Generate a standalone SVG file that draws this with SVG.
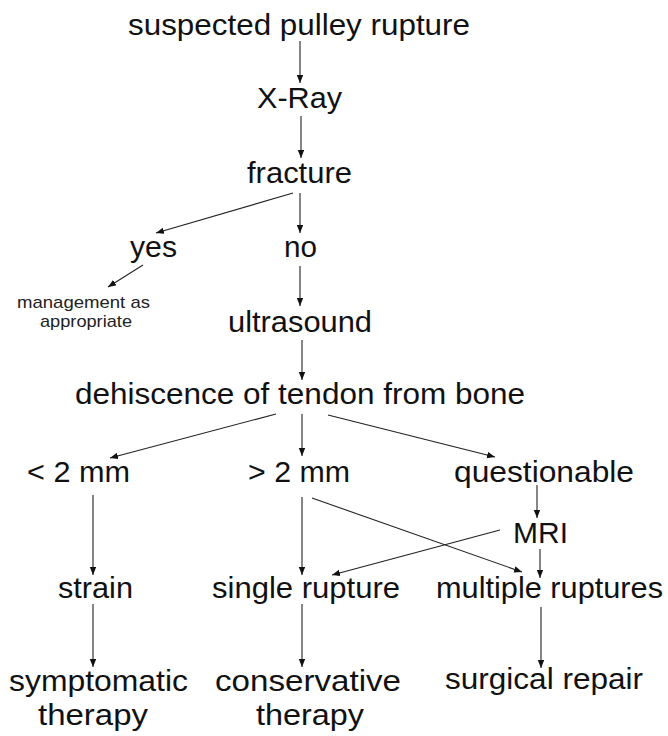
<svg xmlns="http://www.w3.org/2000/svg" width="668" height="736" viewBox="0 0 668 736">
<defs>
<style>
text{font-family:"Liberation Sans",Arial,sans-serif;font-size:29px;fill:#111;}
text.small{font-size:17px;fill:#222;}
.c line{stroke:#222;stroke-width:1.1;fill:none;marker-end:url(#ah);}
</style>
<marker id="ah" markerUnits="userSpaceOnUse" markerWidth="9" markerHeight="7" refX="8" refY="3.25" orient="auto">
<path d="M0,0 L8,3.25 L0,6.5 z" fill="#111"/>
</marker>
</defs>
<rect width="668" height="736" fill="#fff"/>
<g id="n-suspected"><text x="128" y="35" textLength="342" lengthAdjust="spacingAndGlyphs">suspected pulley rupture</text></g>
<g id="n-xray"><text x="257" y="108" textLength="85" lengthAdjust="spacingAndGlyphs">X-Ray</text></g>
<g id="n-fracture"><text x="247" y="183" textLength="105" lengthAdjust="spacingAndGlyphs">fracture</text></g>
<g id="n-yes"><text x="130" y="257" textLength="47" lengthAdjust="spacingAndGlyphs">yes</text></g>
<g id="n-no"><text x="284" y="257" textLength="33" lengthAdjust="spacingAndGlyphs">no</text></g>
<g id="n-management"><text class="small" x="17" y="308" textLength="133" lengthAdjust="spacingAndGlyphs">management as</text><text class="small" x="40" y="327" textLength="92" lengthAdjust="spacingAndGlyphs">appropriate</text></g>
<g id="n-ultrasound"><text x="228" y="332" textLength="144" lengthAdjust="spacingAndGlyphs">ultrasound</text></g>
<g id="n-dehiscence"><text x="75" y="404" textLength="450" lengthAdjust="spacingAndGlyphs">dehiscence of tendon from bone</text></g>
<g id="n-lt2"><text x="27" y="482" textLength="103" lengthAdjust="spacingAndGlyphs">&lt; 2 mm</text></g>
<g id="n-gt2"><text x="248" y="482" textLength="102" lengthAdjust="spacingAndGlyphs">&gt; 2 mm</text></g>
<g id="n-questionable"><text x="454" y="482" textLength="180" lengthAdjust="spacingAndGlyphs">questionable</text></g>
<g id="n-mri"><text x="513" y="543" textLength="55" lengthAdjust="spacingAndGlyphs">MRI</text></g>
<g id="n-strain"><text x="58" y="598" textLength="75" lengthAdjust="spacingAndGlyphs">strain</text></g>
<g id="n-single"><text x="212" y="598" textLength="188" lengthAdjust="spacingAndGlyphs">single rupture</text></g>
<g id="n-multiple"><text x="436" y="598" textLength="227" lengthAdjust="spacingAndGlyphs">multiple ruptures</text></g>
<g id="n-symptomatic"><text x="9" y="691" textLength="179" lengthAdjust="spacingAndGlyphs">symptomatic</text><text x="38" y="725" textLength="110" lengthAdjust="spacingAndGlyphs">therapy</text></g>
<g id="n-conservative"><text x="215" y="691" textLength="186" lengthAdjust="spacingAndGlyphs">conservative</text><text x="256" y="725" textLength="108" lengthAdjust="spacingAndGlyphs">therapy</text></g>
<g id="n-surgical"><text x="445" y="689" textLength="198" lengthAdjust="spacingAndGlyphs">surgical repair</text></g>
<g id="connectors" class="c">
<line x1="300" y1="41" x2="300" y2="83"/>
<line x1="301" y1="116" x2="301" y2="158"/>
<line x1="293" y1="193" x2="156" y2="233"/>
<line x1="300" y1="193" x2="300" y2="233"/>
<line x1="143" y1="265" x2="108" y2="287"/>
<line x1="300" y1="266" x2="300" y2="306"/>
<line x1="302" y1="340" x2="302" y2="380"/>
<line x1="276" y1="414" x2="110" y2="458"/>
<line x1="302" y1="414" x2="302" y2="456"/>
<line x1="328" y1="415" x2="495" y2="457"/>
<line x1="93" y1="495" x2="93" y2="575"/>
<line x1="302" y1="497" x2="302" y2="575"/>
<line x1="312" y1="498" x2="522" y2="572"/>
<line x1="537" y1="485" x2="537" y2="518"/>
<line x1="500" y1="530" x2="332" y2="575"/>
<line x1="540" y1="549" x2="540" y2="578"/>
<line x1="93" y1="604" x2="93" y2="667"/>
<line x1="302" y1="604" x2="302" y2="667"/>
<line x1="541" y1="607" x2="541" y2="668"/>
</g>
</svg>
